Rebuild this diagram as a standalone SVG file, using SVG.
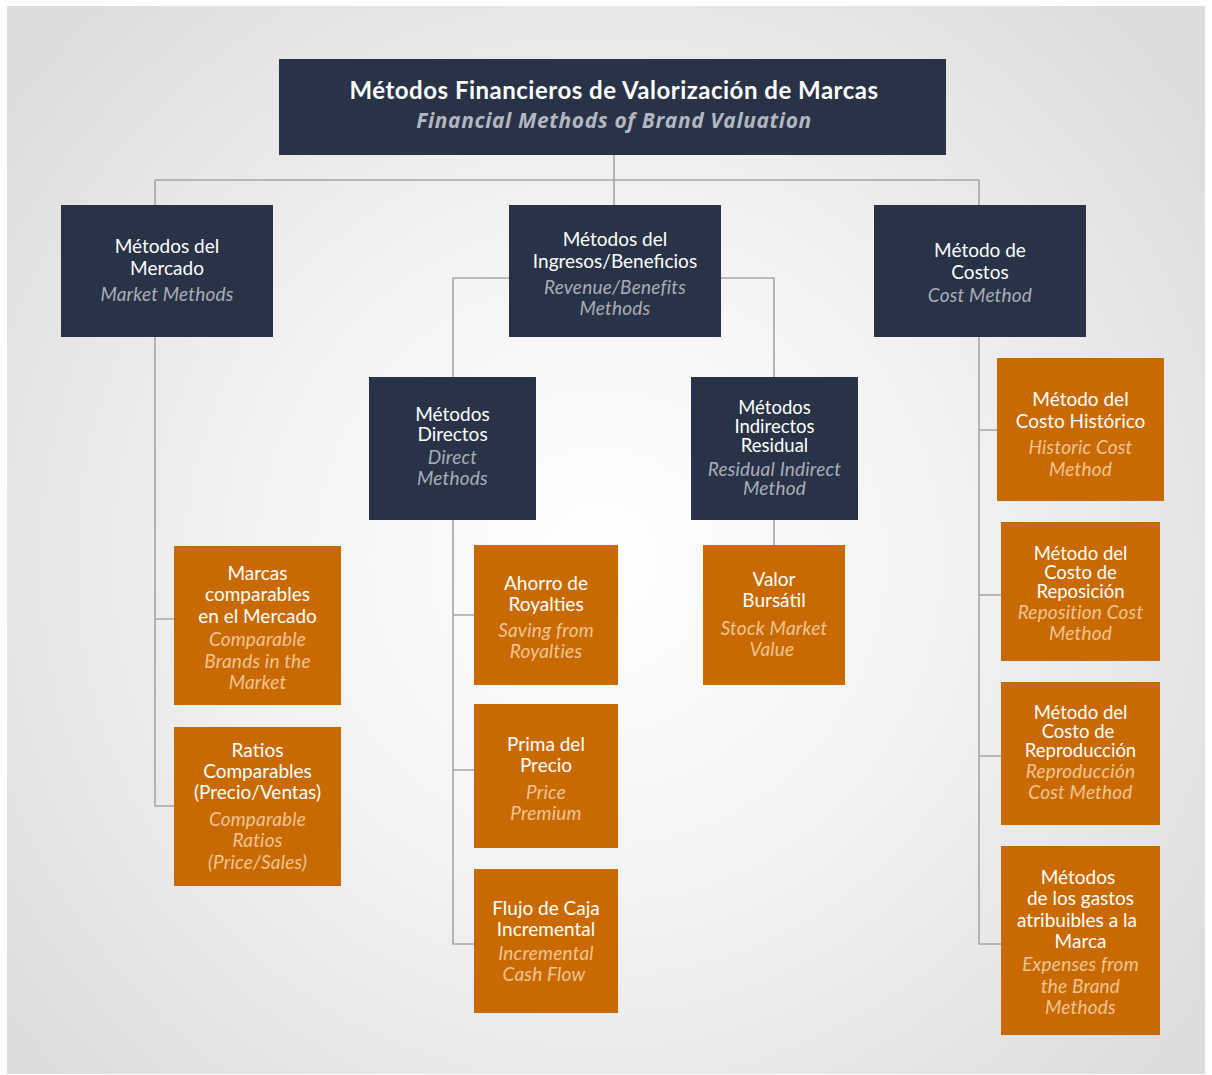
<svg xmlns="http://www.w3.org/2000/svg" width="1212" height="1075" viewBox="0 0 1212 1075">
<defs>
<radialGradient id="bg" cx="600" cy="560" r="760" gradientUnits="userSpaceOnUse">
<stop offset="0" stop-color="#ffffff"/>
<stop offset="0.45" stop-color="#f3f3f3"/>
<stop offset="1" stop-color="#dcdcdc"/>
</radialGradient>
<style>
.navy{fill:#283347}
.orange{fill:#c96a00}
.t{font-family:Lato,"Open Sans","Liberation Sans",sans-serif;font-size:19px;fill:#ffffff;text-anchor:middle}
.tt{font-size:18.5px}
.tb{font-family:Lato,"Open Sans","Liberation Sans",sans-serif;font-size:24px;letter-spacing:0.5px;font-weight:bold;fill:#ffffff;text-anchor:middle}
.sb{font-family:"Open Sans",Lato,"Liberation Sans",sans-serif;font-size:21px;letter-spacing:0.6px;font-weight:bold;font-style:italic;fill:#b3b7bf;text-anchor:middle}
.in{font-family:Lato,"Open Sans","Liberation Sans",sans-serif;font-size:19px;letter-spacing:0.2px;font-style:italic;fill:#a9adb6;text-anchor:middle}
.io{font-family:Lato,"Open Sans","Liberation Sans",sans-serif;font-size:19px;letter-spacing:0.2px;font-style:italic;fill:#f0c494;text-anchor:middle}
.c{fill:none;stroke:#a6a6a6;stroke-width:1.6}
</style>
</defs>
<rect x="0" y="0" width="1212" height="1075" fill="#ffffff"/>
<rect x="7" y="6" width="1198" height="1068" fill="url(#bg)"/>

<g id="connectors">
<path class="c" d="M614 155V180M155 180H979M155 180V205M614 180V205M979 180V205"/>
<path class="c" d="M453 377V278H774V377"/>
<path class="c" d="M155 337V806H174M155 619H174"/>
<path class="c" d="M453 520V944H474M453 615H474M453 770H474"/>
<path class="c" d="M774 520V545"/>
<path class="c" d="M979 337V944H1001M979 430H997M979 595H1001M979 756H1001"/>
</g>

<g id="root">
<rect class="navy" x="279" y="59" width="667" height="96"/>
<text class="tb" x="614" y="99">Métodos Financieros de Valorización de Marcas</text>
<text class="sb" x="614" y="128">Financial Methods of Brand Valuation</text>
</g>

<g id="market">
<rect class="navy" x="61" y="205" width="212" height="132"/>
<text class="t" x="167" y="253">Métodos del</text>
<text class="t" x="167" y="275">Mercado</text>
<text class="in" x="167" y="301">Market Methods</text>
</g>

<g id="revenue">
<rect class="navy" x="509" y="205" width="212" height="132"/>
<text class="t" x="615" y="246">Métodos del</text>
<text class="t" x="615" y="268">Ingresos/Beneficios</text>
<text class="in" x="615" y="294">Revenue/Benefits</text>
<text class="in" x="615" y="315">Methods</text>
</g>

<g id="cost">
<rect class="navy" x="874" y="205" width="212" height="132"/>
<text class="t" x="980" y="257">Método de</text>
<text class="t" x="980" y="279">Costos</text>
<text class="in" x="980" y="302">Cost Method</text>
</g>

<g id="directos">
<rect class="navy" x="369" y="377" width="167" height="143"/>
<text class="t" x="452.5" y="421">Métodos</text>
<text class="t" x="452.5" y="441">Directos</text>
<text class="in" x="452.5" y="464">Direct</text>
<text class="in" x="452.5" y="485">Methods</text>
</g>

<g id="indirectos">
<rect class="navy" x="691" y="377" width="167" height="143"/>
<text class="t tt" x="774.5" y="414">Métodos</text>
<text class="t tt" x="774.5" y="433">Indirectos</text>
<text class="t tt" x="774.5" y="452">Residual</text>
<text class="in" x="774.5" y="476">Residual Indirect</text>
<text class="in" x="774.5" y="495">Method</text>
</g>

<g id="marcas-comparables">
<rect class="orange" x="174" y="546" width="167" height="159"/>
<text class="t" x="257.5" y="580">Marcas</text>
<text class="t" x="257.5" y="601">comparables</text>
<text class="t" x="257.5" y="623">en el Mercado</text>
<text class="io" x="257.5" y="646">Comparable</text>
<text class="io" x="257.5" y="668">Brands in the</text>
<text class="io" x="257.5" y="689">Market</text>
</g>

<g id="ratios">
<rect class="orange" x="174" y="727" width="167" height="159"/>
<text class="t" x="257.5" y="757">Ratios</text>
<text class="t" x="257.5" y="778">Comparables</text>
<text class="t" x="257.5" y="799">(Precio/Ventas)</text>
<text class="io" x="257.5" y="826">Comparable</text>
<text class="io" x="257.5" y="847">Ratios</text>
<text class="io" x="257.5" y="869">(Price/Sales)</text>
</g>

<g id="ahorro">
<rect class="orange" x="474" y="545" width="144" height="140"/>
<text class="t" x="546" y="590">Ahorro de</text>
<text class="t" x="546" y="611">Royalties</text>
<text class="io" x="546" y="637">Saving from</text>
<text class="io" x="546" y="658">Royalties</text>
</g>

<g id="prima">
<rect class="orange" x="474" y="704" width="144" height="144"/>
<text class="t" x="546" y="751">Prima del</text>
<text class="t" x="546" y="772">Precio</text>
<text class="io" x="546" y="799">Price</text>
<text class="io" x="546" y="820">Premium</text>
</g>

<g id="flujo">
<rect class="orange" x="474" y="869" width="144" height="144"/>
<text class="t" x="546" y="915">Flujo de Caja</text>
<text class="t" x="546" y="936">Incremental</text>
<text class="io" x="546" y="960">Incremental</text>
<text class="io" x="544" y="981">Cash Flow</text>
</g>

<g id="valor">
<rect class="orange" x="703" y="545" width="142" height="140"/>
<text class="t" x="774" y="586">Valor</text>
<text class="t" x="774" y="607">Bursátil</text>
<text class="io" x="774" y="635">Stock Market</text>
<text class="io" x="772" y="656">Value</text>
</g>

<g id="historico">
<rect class="orange" x="997" y="358" width="167" height="143"/>
<text class="t" x="1080.5" y="406">Método del</text>
<text class="t" x="1080.5" y="428">Costo Histórico</text>
<text class="io" x="1080.5" y="454">Historic Cost</text>
<text class="io" x="1080.5" y="476">Method</text>
</g>

<g id="reposicion">
<rect class="orange" x="1001" y="522" width="159" height="139"/>
<text class="t tt" x="1080.5" y="560">Método del</text>
<text class="t tt" x="1080.5" y="579">Costo de</text>
<text class="t tt" x="1080.5" y="598">Reposición</text>
<text class="io" x="1080.5" y="619">Reposition Cost</text>
<text class="io" x="1080.5" y="640">Method</text>
</g>

<g id="reproduccion">
<rect class="orange" x="1001" y="682" width="159" height="143"/>
<text class="t tt" x="1080.5" y="719">Método del</text>
<text class="t tt" x="1078" y="738">Costo de</text>
<text class="t tt" x="1080.5" y="757">Reproducción</text>
<text class="io" x="1080.5" y="778">Reproducción</text>
<text class="io" x="1080.5" y="799">Cost Method</text>
</g>

<g id="gastos">
<rect class="orange" x="1001" y="846" width="159" height="189"/>
<text class="t" x="1078" y="884">Métodos</text>
<text class="t" x="1080.5" y="905">de los gastos</text>
<text class="t" x="1077" y="927">atribuibles a la</text>
<text class="t" x="1080.5" y="948">Marca</text>
<text class="io" x="1080.5" y="971">Expenses from</text>
<text class="io" x="1080.5" y="993">the Brand</text>
<text class="io" x="1080.5" y="1014">Methods</text>
</g>
</svg>
